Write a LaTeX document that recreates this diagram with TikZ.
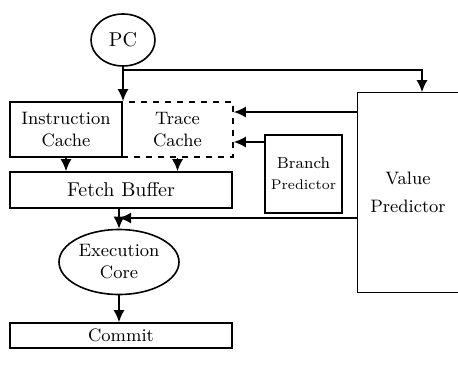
\documentclass[tikz,border=0pt]{standalone}
\usepackage{tikz}
\usetikzlibrary{shapes.geometric, positioning, arrows.meta}
\tikzset{>={Latex[length=6pt,width=5.5pt]},
         every path/.style={line width=0.8pt},
         unit/.style={draw, rectangle, inner sep=0pt, align=center, font=\small},
         oval/.style={draw, ellipse, inner sep=0pt, align=center, font=\small},
         }

\begin{document}
\begin{tikzpicture}[x=0.5pt, y=-0.5pt]
    \useasboundingbox (0,0) rectangle (458,369);

    \node[oval, minimum width=32pt, minimum height=26pt, font=\normalsize] (pc) at (123,40) {PC};
    \node[unit, minimum width=56pt, minimum height=27.5pt] (ic) at (66,129.5) {Instruction\\Cache};
    \node[unit, dashed, minimum width=55.5pt, minimum height=27.5pt] (tc) at (177.5,129.5) {Trace\\Cache};
    \node[unit, minimum width=111pt, minimum height=18pt, font=\normalsize] (fb) at (121,190) {Fetch Buffer};
    \node[unit, minimum width=38.5pt, minimum height=39pt, font=\footnotesize] (bp) at (303.5,174) {Branch\\[1pt]{\scriptsize Predictor}};
    \node[unit, draw=none, minimum width=50pt, minimum height=99.5pt] (vp) at (408,192.5) {Value\\[3pt]Predictor};
    \node[oval, minimum width=60pt, minimum height=32.5pt] (ec) at (119,262) {Execution\\Core};
    \node[unit, minimum width=111pt, minimum height=12.5pt] (cm) at (121,335.5) {Commit};

    % value predictor runs off the right edge
    \draw[line width=0.6pt] ([xshift=2pt]vp.north east) -- (vp.north west) -- (vp.south west) -- ([xshift=2pt]vp.south east);

    \coordinate (split) at (123,70);
    \coordinate (merge) at (119,218);

    \draw[->] (pc.south) -- (pc.south |- ic.north);
    \draw[->] (split) -| ([xshift=7pt]vp.north);
    \draw[->] (vp.west |- 0,112) -- (tc.east |- 0,112);
    \draw[->] (bp.west |- 0,142) -- (tc.east |- 0,142);
    \draw[->] (ic.south) -- (ic.south |- fb.north);
    \draw[->] (tc.south) -- (tc.south |- fb.north);
    \draw[->] (fb.south -| ec.north) -- (ec.north);
    \draw[->] (vp.west |- merge) -- (merge);
    \draw[->] (ec.south) -- (ec.south |- cm.north);
\end{tikzpicture}
\end{document}
